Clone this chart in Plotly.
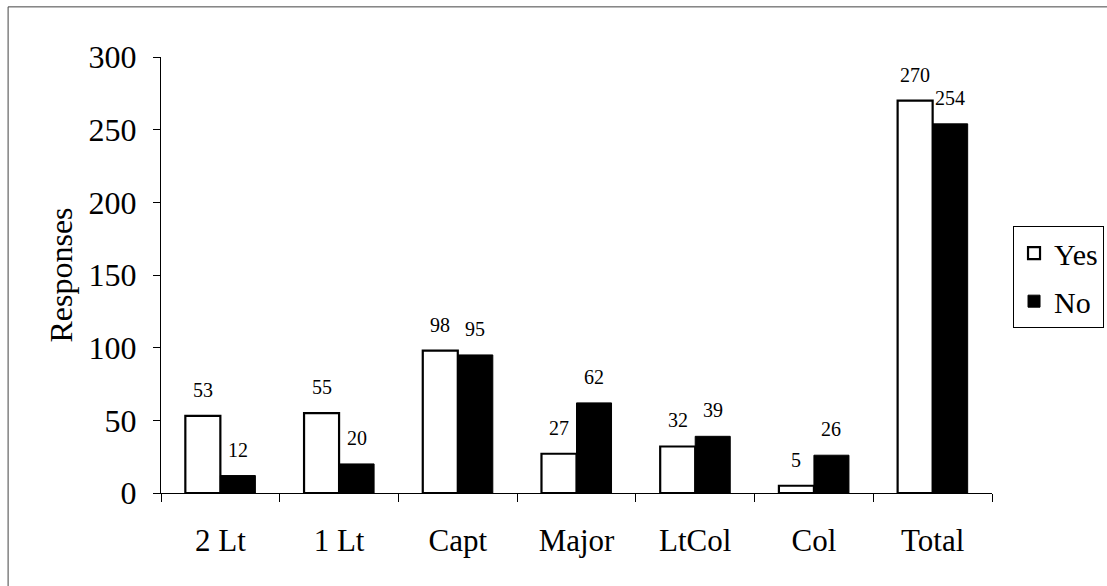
import plotly.graph_objects as go

categories = ["2 Lt", "1 Lt", "Capt", "Major", "LtCol", "Col", "Total"]
yes_values = [53, 55, 98, 27, 32, 5, 270]
no_values = [12, 20, 95, 62, 39, 26, 254]
y_ticks = [0, 50, 100, 150, 200, 250, 300]

FONT = "Liberation Serif"
SERIF = "serif"

fig = go.Figure()
fig.add_trace(go.Bar(
    name="Yes", x=categories, y=yes_values, legendgroup="yes",
    marker=dict(color="white", line=dict(color="black", width=2.2)),
))
fig.add_trace(go.Bar(
    name="No", x=categories, y=no_values, legendgroup="no",
    marker=dict(color="black", line=dict(color="black", width=1)),
))

# value labels above bars
for cat, v in zip(categories, yes_values):
    fig.add_annotation(x=cat, y=v, text=str(v), showarrow=False, xshift=-17.5,
                       yanchor="bottom", yshift=13,
                       font=dict(family=SERIF, size=20, color="black"))
for cat, v in zip(categories, no_values):
    fig.add_annotation(x=cat, y=v, text=str(v), showarrow=False, xshift=17.5,
                       yanchor="bottom", yshift=13,
                       font=dict(family=SERIF, size=20, color="black"))

# outer frame
fig.add_shape(type="rect", xref="paper", yref="paper",
              x0=-0.184, x1=1.3, y0=-0.4, y1=1.115,
              line=dict(color="#444444", width=1), layer="below")

fig.update_layout(
    width=1107, height=586,
    margin=dict(l=161, r=115, t=57, b=93, autoexpand=False),
    paper_bgcolor="white", plot_bgcolor="white",
    barmode="group", bargap=0.41, bargroupgap=0,
    font=dict(family=FONT, color="black"),
    showlegend=True,
    legend=dict(x=1.0253, y=0.612, xanchor="left", yanchor="top",
                bordercolor="black", borderwidth=1, bgcolor="white",
                font=dict(family=SERIF, size=30, color="black"),
                itemwidth=30, tracegroupgap=6),
)
fig.update_xaxes(
    type="category", showline=True, linecolor="black", linewidth=1,
    ticks="outside", tickson="boundaries", ticklen=8, tickcolor="black",
    tickfont=dict(family=FONT, size=31, color="black"),
    ticklabelstandoff=20, showgrid=False, zeroline=False,
)
fig.update_yaxes(
    range=[0, 300], tickvals=y_ticks, showline=True, linecolor="black",
    linewidth=1, ticks="outside", ticklen=7, tickcolor="black",
    tickfont=dict(family=FONT, size=32, color="black"),
    ticklabelstandoff=10, showgrid=False, zeroline=False,
    title=dict(text="Responses", standoff=6,
               font=dict(family=FONT, size=32, color="black")),
)

fig.write_html("out.html")
